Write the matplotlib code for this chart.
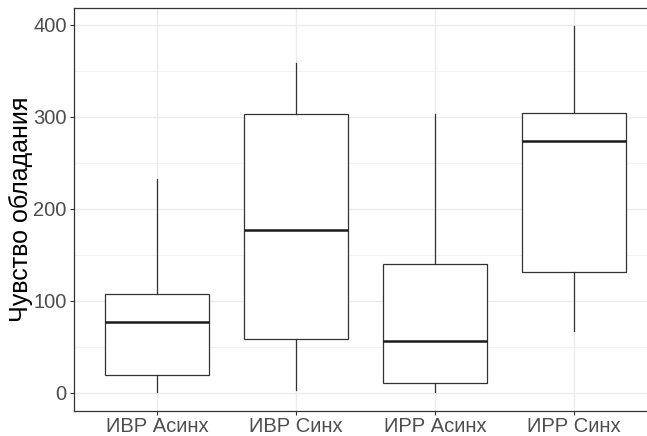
import matplotlib
matplotlib.use("Agg")
import matplotlib.pyplot as plt
from matplotlib.ticker import MultipleLocator

groups = ["ИВР Асинх", "ИВР Синх", "ИРР Асинх", "ИРР Синх"]
whislo = [1, 3, 1, 67]
q1 = [19.6, 58.7, 10.9, 131.5]
med = [76.8, 177, 56.2, 273.6]
q3 = [107.6, 303, 140.2, 304.3]
whishi = [232.3, 358, 302.6, 398.6]

plt.rcParams['font.family'] = ['Liberation Sans', 'DejaVu Sans']

stats = []
for i, g in enumerate(groups):
    stats.append({'label': g, 'whislo': whislo[i], 'q1': q1[i], 'med': med[i],
                  'q3': q3[i], 'whishi': whishi[i], 'fliers': []})

fig = plt.figure(figsize=(6.47, 4.36), dpi=100)
ax = fig.add_axes([73.5 / 647, 25 / 436, (657.5 - 73.5) / 647, (411 - 8.3) / 436])

edge = '#333333'
ax.bxp(stats, positions=range(1, 5), widths=0.75, patch_artist=True, showcaps=False,
       boxprops=dict(facecolor='white', edgecolor=edge, linewidth=0.9),
       whiskerprops=dict(color=edge, linewidth=0.9),
       medianprops=dict(color='#1a1a1a', linewidth=1.8),
       zorder=3)

ax.set_xlim(0.4, 4.6)
ax.set_ylim(-19.9, 418)
ax.yaxis.set_major_locator(MultipleLocator(100))
ax.yaxis.set_minor_locator(MultipleLocator(50))
ax.grid(which='major', color='#ebebeb', linewidth=1.0, zorder=0)
ax.grid(which='minor', axis='y', color='#ebebeb', linewidth=0.5, zorder=0)
ax.set_axisbelow(True)
ax.tick_params(which='minor', length=0)
ax.tick_params(which='major', length=3, width=0.8, color=edge, labelsize=14.5,
               labelcolor='#4d4d4d', pad=2)
ax.tick_params(axis='x', pad=1.5)
for s in ax.spines.values():
    s.set_color(edge)
    s.set_linewidth(0.9)
ax.set_xticks(range(1, 5))
ax.set_xticklabels(groups)
ax.set_ylabel("Чувство обладания", fontsize=18, color='black', labelpad=0)

fig.savefig("out.png", dpi=100)
